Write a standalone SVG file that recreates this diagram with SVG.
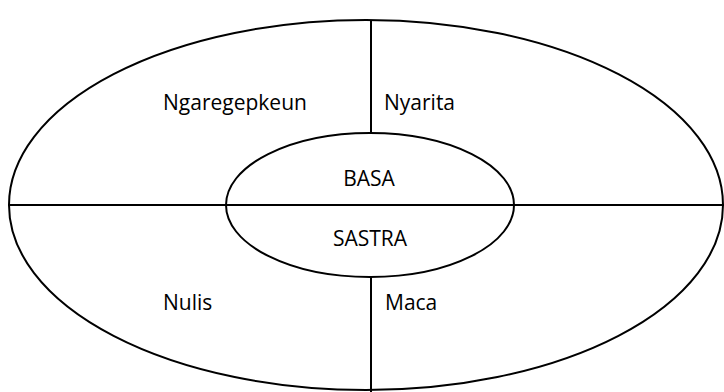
<svg xmlns="http://www.w3.org/2000/svg" width="724" height="392" viewBox="0 0 724 392">
  <style>
    .shape { fill: none; stroke: #000; stroke-width: 2; }
    .line { stroke: #000; stroke-width: 2; fill: none; }
    .lbl { font-family: "Open Sans", "Liberation Sans", sans-serif; font-size: 21px; fill: #000; }
    .mid { text-anchor: middle; }
  </style>
  <rect width="724" height="392" fill="#fff"/>
  <g id="outer">
    <ellipse class="shape" cx="366" cy="205" rx="357" ry="185"/>
  </g>
  <g id="connectors">
    <line class="line" x1="9" y1="205" x2="724" y2="205"/>
    <line class="line" x1="371" y1="20" x2="371" y2="133"/>
    <line class="line" x1="371" y1="277" x2="371" y2="392"/>
  </g>
  <g id="inner">
    <ellipse class="shape" cx="370" cy="205" rx="144" ry="72"/>
  </g>
  <g id="basa">
    <text class="lbl mid" x="369" y="186">BASA</text>
  </g>
  <g id="sastra">
    <text class="lbl mid" x="370" y="246">SASTRA</text>
  </g>
  <g id="ngaregepkeun">
    <text class="lbl" x="163" y="110">Ngaregepkeun</text>
  </g>
  <g id="nyarita">
    <text class="lbl" x="384" y="110">Nyarita</text>
  </g>
  <g id="nulis">
    <text class="lbl" x="163" y="310">Nulis</text>
  </g>
  <g id="maca">
    <text class="lbl" x="385" y="310">Maca</text>
  </g>
</svg>
